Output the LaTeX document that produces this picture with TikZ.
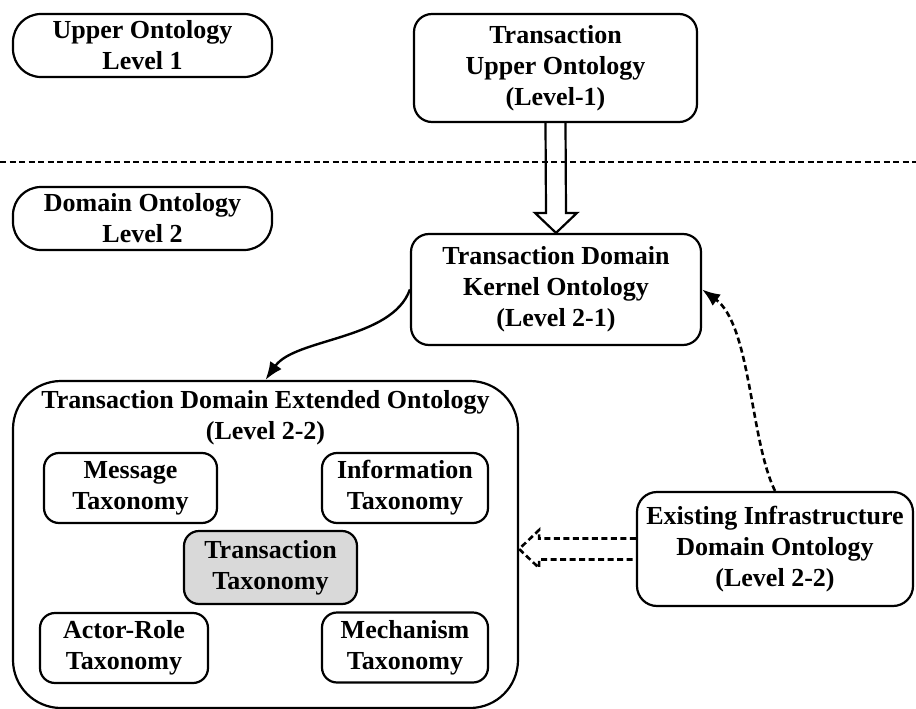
\documentclass[tikz,border=0pt]{standalone}
\usepackage{fontspec}
\setmainfont{Liberation Serif}
\usepackage{tikz}
\usetikzlibrary{arrows.meta}
\usetikzlibrary{positioning}
\definecolor{taxgray}{RGB}{217,217,217}

\begin{document}
\begin{tikzpicture}[x=1pt, y=-1pt,
        every node/.style={font=\bfseries\fontsize{26}{31}\selectfont, align=center, inner sep=0pt},
        onto/.style={draw, line width=2.2pt, rounded corners=18pt},
        pill/.style={draw, line width=2.2pt, rounded corners=28pt, minimum width=259pt, minimum height=63pt},
        taxo/.style={draw, line width=2.2pt, rounded corners=15pt, minimum width=168pt, minimum height=70pt},
        dotline/.style={line width=2.6pt, dash pattern=on 6pt off 3.5pt},
        solidarrow/.style={line width=2.4pt, -{Latex[length=18pt,width=14pt]}}]
    \useasboundingbox (0,0) rectangle (916,709);
    % levels on the left
    \node[pill] (upper1) at (142.5,45.5) {Upper Ontology\\Level 1};
    \node[pill] (domain2) at (142.5,218.5) {Domain Ontology\\Level 2};
    \draw[dotline] (0,162) -- (916,162);
    % ontologies
    \node[onto, minimum width=283pt, minimum height=108pt] (tuo) at (555.5,68) {Transaction\\Upper Ontology\\(Level-1)};
    \node[onto, minimum width=290pt, minimum height=111pt] (kernel) at (556,289.5) {Transaction Domain\\Kernel Ontology\\(Level 2-1)};
    \node[onto, rounded corners=20pt, minimum width=276pt, minimum height=114pt] (existing) at (775,549) {Existing Infrastructure\\Domain Ontology\\(Level 2-2)};
    \node[onto, rounded corners=48pt, minimum width=505pt, minimum height=327pt] (ext) at (265.5,544.5) {};
    \node[below=10pt of ext.north] (exttitle) {Transaction Domain Extended Ontology\\(Level 2-2)};
    % taxonomies
    \node[taxo, minimum width=173pt] (message) at (130.5,488) {Message\\Taxonomy};
    \node[taxo, minimum width=166pt] (information) at (405,488) {Information\\Taxonomy};
    \node[taxo, fill=taxgray, minimum width=173pt, minimum height=73pt] (transaction) at (270.5,567.5) {Transaction\\Taxonomy};
    \node[taxo] (actor) at (124,648) {Actor-Role\\Taxonomy};
    \node[taxo, minimum width=166pt] (mechanism) at (405,647.5) {Mechanism\\Taxonomy};
    % hollow arrows
    \draw[line width=2.2pt] ([xshift=-10pt]tuo.south) -- ([xshift=-10pt,yshift=20pt]kernel.north) -- ([xshift=-21pt,yshift=20pt]kernel.north) -- (kernel.north) -- ([xshift=21pt,yshift=20pt]kernel.north) -- ([xshift=10pt,yshift=20pt]kernel.north) -- ([xshift=10pt]tuo.south);
    \coordinate (tip) at (ext.east |- existing.west);
    \draw[dotline] ([yshift=10.5pt]existing.west) -- ([xshift=20pt,yshift=10.5pt]tip) -- ([xshift=20pt,yshift=19pt]tip) -- (tip) -- ([xshift=20pt,yshift=-19pt]tip) -- ([xshift=20pt,yshift=-10.5pt]tip) -- ([yshift=-10.5pt]existing.west);
    % curved arrows
    \draw[solidarrow] (kernel.west) .. controls (392,340) and (295,338) .. (ext.north);
    \draw[dotline, -{Latex[length=18pt,width=14pt]}] (existing.north) .. controls (750,440) and (751,325) .. (kernel.east);
\end{tikzpicture}
\end{document}
